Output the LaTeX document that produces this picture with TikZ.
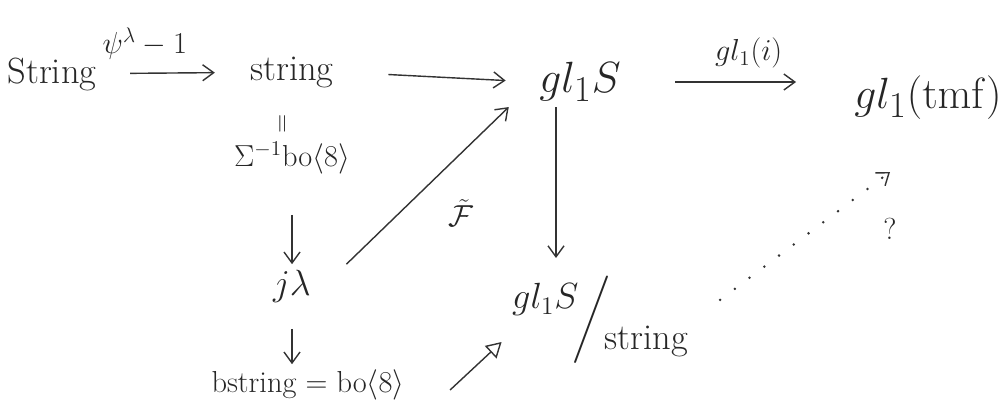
\documentclass[tikz,border=0pt]{standalone}
\usepackage{amsmath,amssymb}
\usetikzlibrary{arrows.meta,positioning}
\tikzset{
  obj/.style={font=\huge, inner sep=3pt, text=black!85},
  bigobj/.style={font=\Huge, inner sep=3pt, text=black!85},
  smallobj/.style={font=\LARGE, inner sep=3pt, text=black!85},
  lab/.style={font=\LARGE, text=black!85},
  map/.style={-{Straight Barb[length=2.2mm,width=3.2mm]}, line width=0.8pt, black!80},
  hollow/.style={-{Triangle[open,length=3mm,width=3.4mm]}, line width=0.8pt, black!80},
  guess/.style={-{Straight Barb[length=2.2mm,width=3.2mm,line width=0.8pt]}, black!80,
                line width=1.6pt, line cap=round, dash pattern=on 0pt off 10.5pt},
}
\begin{document}
\begin{tikzpicture}[x=0.02cm,y=-0.02cm]
  \path[use as bounding box] (0,0) rectangle (1007,406);

  % objects
  \node[obj] (STRL) at (52,74) {String};
  \node[obj] (STR) at (292,72) {string};
  \node[font=\Large, rotate=90, text=black!85] (EQ) at (284,124) {$=$};
  \node[smallobj] (SIG) at (292,158) {$\Sigma^{-1}\mathrm{bo}\langle 8\rangle$};
  \node[obj] (JL) at (292,286) {$j\lambda$};
  \node[smallobj] (BST) at (308,385) {bstring $=$ bo$\langle 8\rangle$};
  \node[bigobj] (GLS) at (580,82) {$gl_1 S$};
  \node[bigobj] (GLT) at (928,98) {$gl_1(\mathrm{tmf})$};
  \node[obj] (QUO) at (600,320)
    {\raisebox{1.3ex}{$gl_1S$}$\!\bigg/\!$\raisebox{-1.3ex}{string}};
  \coordinate (QUOTOP) at (556,258);
  \coordinate (GUESS) at (890,172);

  % maps
  \draw[map, shorten <=16pt, shorten >=17pt] (STRL) -- node[lab, above, pos=0.3, yshift=4pt] {$\psi^{\lambda}-1$} (STR);
  \draw[map, shorten <=28pt, shorten >=16pt] (STR.east) -- (GLS.west);
  \draw[map, shorten <=28pt, shorten >=30pt] (GLS.east) -- node[lab, above, pos=0.55, yshift=4pt] {$gl_1(i)$} (GLS.east -| GLT.west);
  \draw[map, shorten <=20pt] (SIG) -- (SIG |- JL.north);
  \draw[map, shorten <=12pt] (JL) -- (JL |- BST.north);
  \draw[map] ([xshift=0.6cm]JL.north east) -- node[lab, below right=4pt and 8pt, pos=0.5] {$\tilde{\mathcal{F}}$} ([xshift=-0.5cm]GLS.south west);
  \draw[map] (GLS.south -| QUOTOP) -- (QUOTOP);
  \draw[hollow] ([xshift=0.8cm,yshift=-0.1cm]BST.east) -- ([xshift=-0.1cm,yshift=-0.44cm]QUO.west);
  \draw[guess, shorten <=19pt] (QUO.east) -- node[lab, pos=1, below=22pt] {?} (GUESS);
\end{tikzpicture}
\end{document}
